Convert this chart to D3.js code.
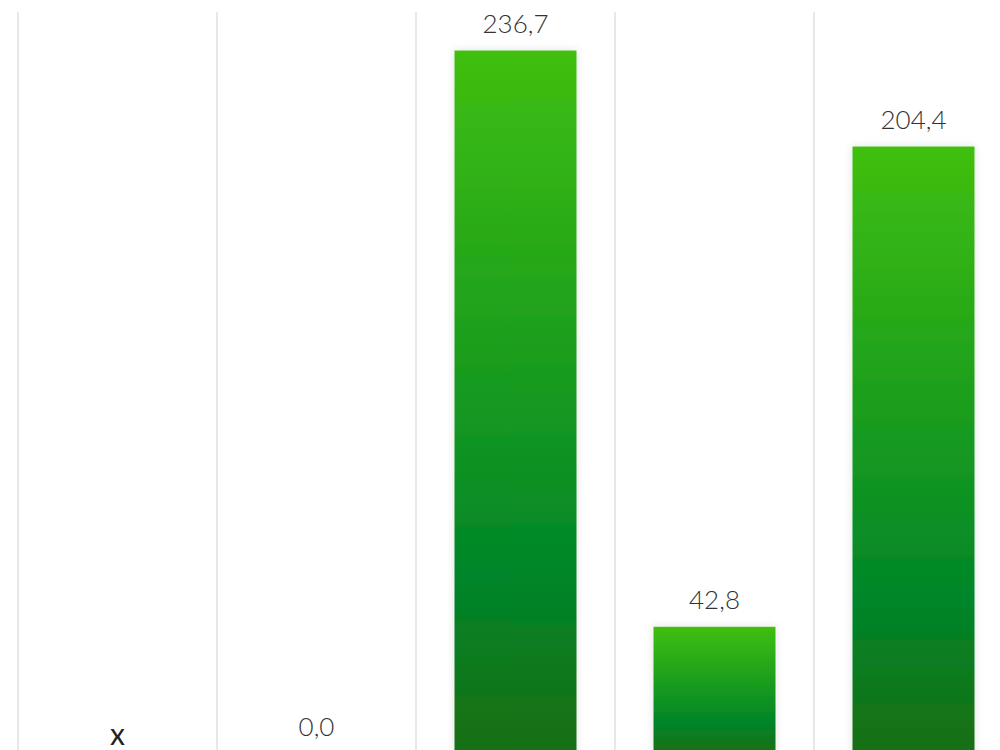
<!DOCTYPE html>
<html><head><meta charset="utf-8">
<script src="https://cdn.jsdelivr.net/npm/d3@7"></script>
<style>html,body{margin:0;padding:0;background:#fff;overflow:hidden}</style>
</head><body>
<script>
const categories = ["1", "2", "3", "4", "5"];
const values = [null, 0.0, 236.7, 42.8, 204.4];
const yTicks = [0, 50, 100, 150, 200, 250];

const W = 1000, H = 750;
const svg = d3.select("body").append("svg").attr("width", W).attr("height", H);
const defs = svg.append("defs");
const grad = defs.append("linearGradient").attr("id", "g").attr("x1", 0).attr("y1", 0).attr("x2", 0).attr("y2", 1);
grad.append("stop").attr("offset", "0%").attr("stop-color", "#40bf0f");
grad.append("stop").attr("offset", "75%").attr("stop-color", "#008529");
grad.append("stop").attr("offset", "100%").attr("stop-color", "#1a6e12");
const f = defs.append("filter").attr("id", "sh").attr("x", "-20%").attr("y", "-20%").attr("width", "140%").attr("height", "140%");
f.append("feDropShadow").attr("dx", 0).attr("dy", 0).attr("stdDeviation", 4).attr("flood-color", "#000").attr("flood-opacity", 0.12);

const x = d3.scaleBand().domain(categories).range([18, 1013]).paddingInner(0.387).paddingOuter(0.1935);
const y = d3.scaleLinear().domain([0, 250]).range([754, 11]);
const step = x.step();

svg.append("g").selectAll("line").data(d3.range(categories.length + 1)).join("line")
  .attr("x1", i => 18 + i * step).attr("x2", i => 18 + i * step)
  .attr("y1", 12).attr("y2", H)
  .attr("stroke", "#e0e0e0").attr("stroke-width", 1.5);

const data = categories.map((c, i) => ({c, v: values[i]}));

svg.append("g").selectAll("rect").data(data.filter(d => d.v != null && d.v > 0)).join("rect")
  .attr("x", d => x(d.c)).attr("width", x.bandwidth())
  .attr("y", d => y(d.v)).attr("height", d => y(0) - y(d.v))
  .attr("fill", "url(#g)").attr("filter", "url(#sh)");

svg.append("g").selectAll("text").data(data).join("text")
  .attr("x", d => x(d.c) + x.bandwidth() / 2)
  .attr("y", d => d.v == null ? y(0) - 9 : y(d.v) - 18)
  .attr("text-anchor", "middle")
  .attr("font-family", "Lato, 'Open Sans', sans-serif")
  .attr("font-weight", d => d.v == null ? 400 : 300)
  .attr("font-size", d => d.v == null ? 30 : 26)
  .attr("fill", d => d.v == null ? "#222" : "#333")
  .text(d => d.v == null ? "x" : d3.format(".1f")(d.v).replace(".", ","));
</script>
</body></html>
